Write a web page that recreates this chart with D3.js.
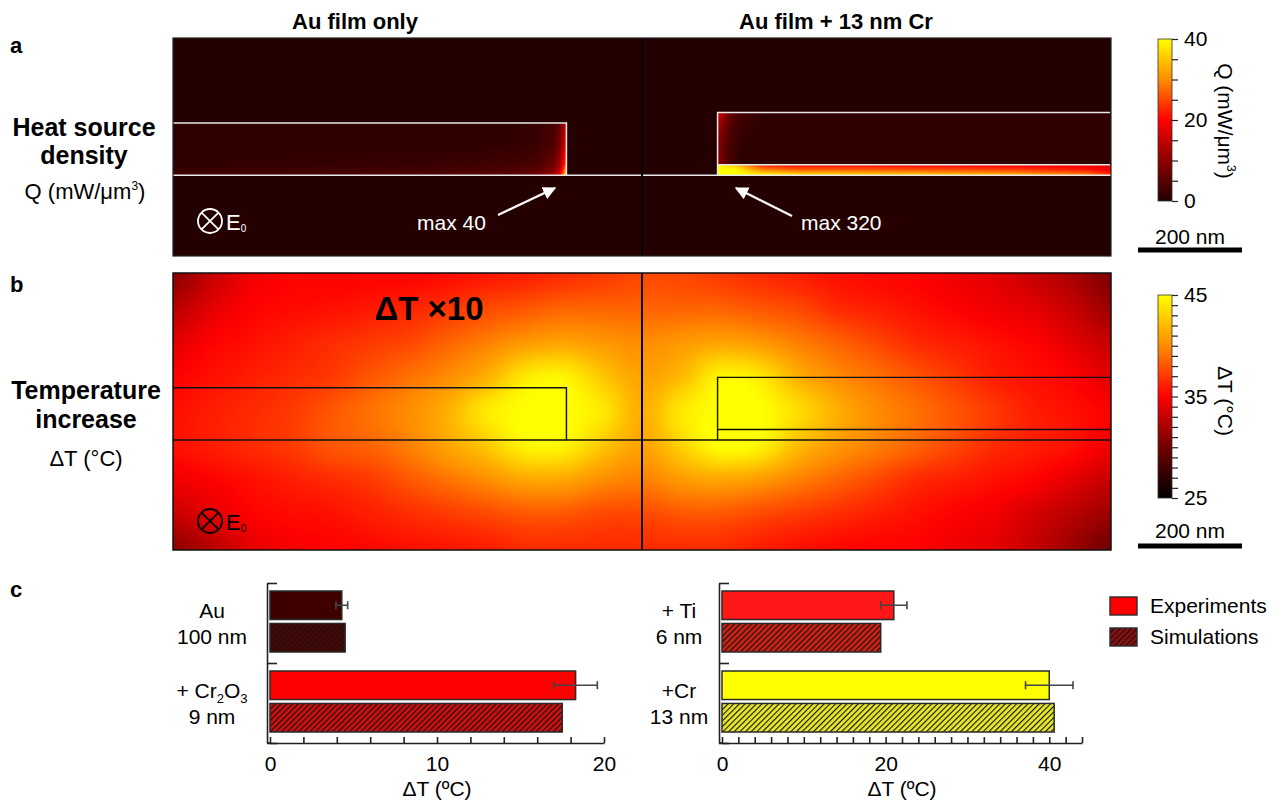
<!DOCTYPE html>
<html>
<head>
<meta charset="utf-8">
<script src="https://cdn.jsdelivr.net/npm/d3@7"></script>
<style>
  body { margin: 0; background: #fff; }
  svg { font-family: "Liberation Sans", Arial, sans-serif; }
</style>
</head>
<body>
<div id="chart"></div>
<script>
// ---------- data ----------
// panel c
const groupLabels = [["Au", "100 nm"], ["+ Cr_2O_3", "9 nm"], ["+ Ti", "6 nm"], ["+Cr", "13 nm"]];
const experiments = [4.3, 18.3, 21.0, 40.0];
const expError = [0.35, 1.3, 1.6, 2.9];
const simulations = [4.5, 17.5, 19.4, 40.6];
const xTicksLeft = [0, 10, 20];
const xTicksRight = [0, 20, 40];

// colour bar ticks
const qTicks = [0, 20, 40];
const dtTicks = [25, 35, 45];

// temperature map (deg C, colour-bar units), rows top->bottom, depth in nm (0 = substrate surface)
const dtDepth = [320, 254, 187, 121, 55, -12, -78, -145, -211];
const dtX = d3.range(-900, 901, 75);
const dtGrid = [
  [31, 33, 34.5, 35, 35, 35, 35, 35.3, 35.7, 36, 36.5, 37, 37.5, 37.5, 37, 36.5, 36, 35.5, 35.2, 35, 34.5, 34, 33, 32, 30.5],
  [32.5, 34, 35, 35.3, 35.5, 35.8, 36.2, 36.8, 37.5, 38, 38.5, 38.5, 38.5, 38.5, 38.5, 38, 37.5, 36.5, 36, 35.5, 35, 34.5, 34, 33, 31.5],
  [34, 35, 35.5, 36, 36.5, 37, 37.5, 38.5, 39.5, 40.5, 41, 40.5, 40, 40.5, 41, 40.5, 39.5, 38.5, 37.5, 36.5, 36, 35.5, 35, 34, 33],
  [35, 35.5, 36, 36.5, 37, 38, 39, 40, 41.5, 44, 44.5, 42.5, 41, 42, 44.5, 44, 41.5, 40, 39, 38, 37, 36, 35.5, 35, 34],
  [35.5, 36, 36.5, 37, 38, 39, 40, 41.5, 44, 45, 45, 44, 41.5, 44, 45, 45, 43.5, 41.5, 40, 39, 38, 37, 36, 35.5, 35],
  [35.5, 36, 36.5, 37, 38, 38.5, 39.5, 41, 42.5, 44.5, 44.5, 42.5, 41, 43, 45, 44.5, 42, 40.5, 39.5, 38.5, 37.5, 36.5, 36, 35.5, 34.5],
  [34.5, 35, 35.5, 36, 36.5, 37, 38, 39, 40, 41, 41, 40, 39.5, 40.5, 41, 40.5, 39.5, 38.5, 37.5, 36.5, 36, 35.5, 35, 34, 33],
  [33, 34, 35, 35.3, 35.5, 36, 36.5, 37, 37.5, 38, 38, 37.5, 37.5, 38, 38, 37.5, 37, 36.5, 36, 35.5, 35, 34.5, 33.5, 32.5, 31.5],
  [31, 32.5, 34, 34.8, 35, 35.2, 35.5, 35.7, 36, 36.5, 36.5, 36.5, 36.5, 36.5, 36.5, 36, 35.5, 35.2, 35, 35, 34.5, 34, 33, 31.5, 30]
];

// heat source density (mW/um^3) inside the films
const qLeftX = [-900, -400, -250, -200, -170, -158, -150, -145];
const qLeftDepth = [100, 60, 20, 0];
const qLeft = [
  [1, 1, 1, 2, 3, 6, 11, 16],
  [1, 1, 1, 2, 4, 8, 14, 20],
  [1, 2, 3, 4, 7, 12, 20, 28],
  [3, 4, 5, 7, 11, 18, 30, 40]
];
const qAuRightX = [145, 155, 170, 190, 230, 900];
const qAuRightDepth = [120, 90, 50, 20];
const qAuRight = [
  [18, 12, 6, 3, 1, 1],
  [12, 8, 4, 2, 1, 1],
  [10, 6, 3, 1, 1, 1],
  [12, 7, 3, 1, 1, 1]
];
const qCrX = [145, 180, 230, 300, 400, 550, 700, 850, 900];
const qCrDepth = [20, 10, 0];
const qCr = [
  [40, 34, 22, 20, 20, 20, 19, 18, 16],
  [40, 40, 30, 27, 27, 26, 25, 22, 19],
  [40, 40, 40, 38, 37, 36, 34, 30, 24]
];

// film geometry (nm)
const FILM_END = 145, AU = 100, CR = 20;

// ---------- setup ----------
const W = 1277, H = 801;
const svg = d3.select("#chart").append("svg").attr("width", W).attr("height", H);
const defs = svg.append("defs");

const qColor = d3.scaleLinear().domain([0, 10, 20, 30, 40])
  .range(["#240000", "#8c0000", "#ff0000", "#ff8c00", "#ffff00"]).clamp(true);
const dtColor = d3.scaleLinear().domain([25, 30, 35, 40, 45])
  .range(["#000000", "#700000", "#ff0000", "#ff8c00", "#ffff00"]).clamp(true);

const PX0 = 173, PX1 = 1111;
const xNm = d3.scaleLinear().domain([-900, 900]).range([PX0, PX1]);
const yA = d3.scaleLinear().domain([263, -155]).range([38, 256]);
const yB = d3.scaleLinear().domain([320, -211]).range([273, 550]);

function lut(scale, lo, hi) {
  return d3.range(512).map(i => {
    const c = d3.rgb(scale(lo + (hi - lo) * i / 511));
    return [c.r, c.g, c.b];
  });
}
const qLut = lut(qColor, 0, 40), dtLut = lut(dtColor, 25, 45);

function fracIndex(arr, v, desc) {
  const n = arr.length;
  let i = 0;
  if (desc) { while (i < n - 2 && v < arr[i + 1]) i++; }
  else { while (i < n - 2 && v > arr[i + 1]) i++; }
  let t = (v - arr[i]) / (arr[i + 1] - arr[i]);
  return i + Math.max(0, Math.min(1, t));
}

function bilinear(xs, ds, grid, x, d) {
  const fx = fracIndex(xs, x, false), fy = fracIndex(ds, d, true);
  const i = Math.min(Math.floor(fx), xs.length - 2), j = Math.min(Math.floor(fy), ds.length - 2);
  const tx = fx - i, ty = fy - j;
  const a = grid[j][i] * (1 - tx) + grid[j][i + 1] * tx;
  const b = grid[j + 1][i] * (1 - tx) + grid[j + 1][i + 1] * tx;
  return a * (1 - ty) + b * ty;
}

function cub(p0, p1, p2, p3, t) {
  return p1 + 0.5 * t * (p2 - p0 + t * (2 * p0 - 5 * p1 + 4 * p2 - p3 + t * (3 * (p1 - p2) + p3 - p0)));
}
function bicubic(xs, ds, grid, x, d) {
  const fx = fracIndex(xs, x, false), fy = fracIndex(ds, d, true);
  const i = Math.min(Math.floor(fx), xs.length - 2), j = Math.min(Math.floor(fy), ds.length - 2);
  const tx = fx - i, ty = fy - j;
  const ci = k => Math.max(0, Math.min(xs.length - 1, k));
  const cj = k => Math.max(0, Math.min(ds.length - 1, k));
  const r = [-1, 0, 1, 2].map(o => {
    const row = grid[cj(j + o)];
    return cub(row[ci(i - 1)], row[ci(i)], row[ci(i + 1)], row[ci(i + 2)], tx);
  });
  return cub(r[0], r[1], r[2], r[3], ty);
}

function fieldImage(g, yScale, valueAt, table, lo, hi) {
  const y0 = yScale.range()[0], y1 = yScale.range()[1];
  const w = PX1 - PX0, h = y1 - y0;
  const cv = document.createElement("canvas");
  cv.width = w; cv.height = h;
  const ctx = cv.getContext("2d");
  const img = ctx.createImageData(w, h);
  for (let py = 0; py < h; py++) {
    const d = yScale.invert(y0 + py + 0.5);
    for (let px = 0; px < w; px++) {
      const x = xNm.invert(PX0 + px + 0.5);
      const v = valueAt(x, d);
      const k = Math.max(0, Math.min(511, Math.round((v - lo) / (hi - lo) * 511)));
      const c = table[k], o = (py * w + px) * 4;
      img.data[o] = c[0]; img.data[o + 1] = c[1]; img.data[o + 2] = c[2]; img.data[o + 3] = 255;
    }
  }
  ctx.putImageData(img, 0, 0);
  g.append("image").attr("x", PX0).attr("y", y0).attr("width", w).attr("height", h)
    .attr("href", cv.toDataURL());
}

// ---------- titles / labels ----------
function textLines(x, lines) {
  lines.forEach(l => {
    svg.append("text").attr("x", x).attr("y", l.y).attr("text-anchor", "middle")
      .attr("font-size", l.size).attr("font-weight", l.bold ? "bold" : null).text(l.t);
  });
}
svg.append("text").attr("x", 355).attr("y", 29).attr("text-anchor", "middle")
  .attr("font-size", 22).attr("font-weight", "bold").text("Au film only");
svg.append("text").attr("x", 836).attr("y", 29).attr("text-anchor", "middle")
  .attr("font-size", 22).attr("font-weight", "bold").text("Au film + 13 nm Cr");

[["a", 53], ["b", 292], ["c", 597]].forEach(([t, y]) =>
  svg.append("text").attr("x", 10).attr("y", y).attr("font-size", 22).attr("font-weight", "bold").text(t));

textLines(84, [{ t: "Heat source", y: 136, size: 25, bold: true }, { t: "density", y: 164, size: 25, bold: true }]);
const qLab = svg.append("text").attr("x", 85).attr("y", 199).attr("text-anchor", "middle").attr("font-size", 22);
qLab.append("tspan").text("Q (mW/μm");
qLab.append("tspan").attr("font-size", 12).attr("dy", -9).text("3");
qLab.append("tspan").attr("dy", 9).text(")");
textLines(86, [{ t: "Temperature", y: 399, size: 25, bold: true }, { t: "increase", y: 428, size: 25, bold: true },
  { t: "ΔT (°C)", y: 466, size: 22 }]);

// ---------- panel a: heat source density ----------
const gA = svg.append("g");
fieldImage(gA, yA, (x, d) => {
  if (x < -FILM_END && d >= 0 && d <= AU) return bilinear(qLeftX, qLeftDepth, qLeft, x, d);
  if (x > FILM_END && d >= 0 && d <= CR) return bilinear(qCrX, qCrDepth, qCr, x, d);
  if (x > FILM_END && d > CR && d <= CR + AU) return bilinear(qAuRightX, qAuRightDepth, qAuRight, x, d);
  return 0;
}, qLut, 0, 40);

const lineW = "#e8e8e8";
gA.append("line").attr("x1", xNm(-900)).attr("x2", xNm(900)).attr("y1", yA(0)).attr("y2", yA(0))
  .attr("stroke", lineW).attr("stroke-width", 1.5);
gA.append("path").attr("d", `M${xNm(-900)},${yA(AU)}H${xNm(-FILM_END)}V${yA(0)}`)
  .attr("fill", "none").attr("stroke", lineW).attr("stroke-width", 1.5);
gA.append("path").attr("d", `M${xNm(900) - 1},${yA(AU + CR)}H${xNm(FILM_END)}V${yA(0)}M${xNm(FILM_END)},${yA(CR)}H${xNm(900) - 1}`)
  .attr("fill", "none").attr("stroke", lineW).attr("stroke-width", 1.5);
gA.append("line").attr("x1", xNm(0)).attr("x2", xNm(0)).attr("y1", 38).attr("y2", 256)
  .attr("stroke", "#000").attr("stroke-width", 2);
gA.append("rect").attr("x", PX0).attr("y", 38).attr("width", PX1 - PX0).attr("height", 218)
  .attr("fill", "none").attr("stroke", "#222").attr("stroke-width", 1.2);

// arrows + annotations
defs.append("marker").attr("id", "headW").attr("viewBox", "0 0 10 10").attr("refX", 9).attr("refY", 5)
  .attr("markerWidth", 6).attr("markerHeight", 6).attr("orient", "auto").attr("markerUnits", "strokeWidth")
  .append("path").attr("d", "M0,0L10,5L0,10z").attr("fill", "#fff");
gA.append("line").attr("x1", 498).attr("y1", 215).attr("x2", 555).attr("y2", 188)
  .attr("stroke", "#fff").attr("stroke-width", 2.2).attr("marker-end", "url(#headW)");
gA.append("line").attr("x1", 792).attr("y1", 216).attr("x2", 736).attr("y2", 188)
  .attr("stroke", "#fff").attr("stroke-width", 2.2).attr("marker-end", "url(#headW)");
gA.append("text").attr("x", 417).attr("y", 230).attr("fill", "#fff").attr("font-size", 21).text("max 40");
gA.append("text").attr("x", 801).attr("y", 230).attr("fill", "#fff").attr("font-size", 21).text("max 320");

function eField(g, cx, cy, col) {
  g.append("circle").attr("cx", cx).attr("cy", cy).attr("r", 12).attr("fill", "none")
    .attr("stroke", col).attr("stroke-width", 1.8);
  const k = 12 * Math.SQRT1_2;
  g.append("path").attr("d", `M${cx - k},${cy - k}L${cx + k},${cy + k}M${cx + k},${cy - k}L${cx - k},${cy + k}`)
    .attr("stroke", col).attr("stroke-width", 1.8);
  const t = g.append("text").attr("x", cx + 16).attr("y", cy + 9).attr("fill", col).attr("font-size", 22);
  t.append("tspan").text("E");
  t.append("tspan").attr("font-size", 10).attr("dy", 2).text("0");
}
eField(gA, 210, 221, "#fff");

// ---------- panel b: temperature ----------
const gB = svg.append("g");
fieldImage(gB, yB, (x, d) => bicubic(dtX, dtDepth, dtGrid, x, d), dtLut, 25, 45);
gB.append("line").attr("x1", xNm(-900)).attr("x2", xNm(900)).attr("y1", yB(0)).attr("y2", yB(0))
  .attr("stroke", "#111").attr("stroke-width", 1.4);
gB.append("path").attr("d", `M${xNm(-900)},${yB(AU)}H${xNm(-FILM_END)}V${yB(0)}`)
  .attr("fill", "none").attr("stroke", "#111").attr("stroke-width", 1.4);
gB.append("path").attr("d", `M${xNm(900) - 1},${yB(AU + CR)}H${xNm(FILM_END)}V${yB(0)}M${xNm(FILM_END)},${yB(CR)}H${xNm(900) - 1}`)
  .attr("fill", "none").attr("stroke", "#111").attr("stroke-width", 1.4);
gB.append("line").attr("x1", xNm(0)).attr("x2", xNm(0)).attr("y1", 273).attr("y2", 550)
  .attr("stroke", "#000").attr("stroke-width", 2);
gB.append("rect").attr("x", PX0).attr("y", 273).attr("width", PX1 - PX0).attr("height", 277)
  .attr("fill", "none").attr("stroke", "#111").attr("stroke-width", 1.5);
gB.append("text").attr("x", 429).attr("y", 320).attr("text-anchor", "middle").attr("font-size", 33)
  .attr("font-weight", "bold").text("ΔT ×10");
eField(gB, 210, 521, "#000");

// ---------- colour bars ----------
function colorBar(id, scale, lo, hi, y0, y1, step, labels) {
  const grad = defs.append("linearGradient").attr("id", id).attr("x1", 0).attr("y1", 1).attr("x2", 0).attr("y2", 0);
  d3.range(lo, hi + 0.001, (hi - lo) / 20).forEach(v =>
    grad.append("stop").attr("offset", (v - lo) / (hi - lo)).attr("stop-color", scale(v)));
  svg.append("rect").attr("x", 1158).attr("y", y0).attr("width", 14).attr("height", y1 - y0)
    .attr("fill", `url(#${id})`).attr("stroke", "#333").attr("stroke-width", 0.8);
  const ys = d3.scaleLinear().domain([lo, hi]).range([y1, y0]);
  const ax = svg.append("g").attr("transform", "translate(1172,0)")
    .call(d3.axisRight(ys).tickValues(d3.range(lo, hi + 0.001, step)).tickSizeInner(6).tickSizeOuter(0)
      .tickPadding(6).tickFormat(d => labels.includes(d) ? d : ""));
  ax.select(".domain").remove();
  ax.attr("font-size", 21).attr("font-family", null);
  ax.selectAll("line").attr("stroke", "#222").attr("stroke-width", 1.2);
}
colorBar("gq", qColor, 0, 40, 39, 201, 5, qTicks);
colorBar("gdt", dtColor, 25, 45, 295, 498, 1, dtTicks);

const qt = svg.append("text").attr("transform", "translate(1218,121) rotate(90)").attr("text-anchor", "middle").attr("font-size", 21);
qt.append("tspan").text("Q (mW/μm");
qt.append("tspan").attr("font-size", 12).attr("dy", -9).text("3");
qt.append("tspan").attr("dy", 9).text(")");
svg.append("text").attr("transform", "translate(1218,401) rotate(90)").attr("text-anchor", "middle")
  .attr("font-size", 21).text("ΔT (°C)");

[[244, 250], [538, 546]].forEach(([ty, ly]) => {
  svg.append("text").attr("x", 1190).attr("y", ty).attr("text-anchor", "middle").attr("font-size", 21).text("200 nm");
  svg.append("line").attr("x1", 1138).attr("x2", 1242).attr("y1", ly).attr("y2", ly)
    .attr("stroke", "#000").attr("stroke-width", 5);
});

// ---------- panel c: bar charts ----------
const expColors = ["#3f0000", "#ff0000", "#ff1616", "#ffff00"];
const simColors = ["#4a0606", "#cc1010", "#cc2214", "#e8e82a"];

function hatch(id, fill) {
  const p = defs.append("pattern").attr("id", id).attr("patternUnits", "userSpaceOnUse")
    .attr("width", 4).attr("height", 4).attr("patternTransform", "rotate(45)");
  p.append("rect").attr("width", 4).attr("height", 4).attr("fill", fill);
  p.append("line").attr("x1", 0).attr("y1", 0).attr("x2", 0).attr("y2", 4).attr("stroke", "#111").attr("stroke-width", 2.2);
}
simColors.forEach((c, i) => hatch("h" + i, c));
hatch("hLeg", "#8c1010");

function labelText(g, x, y, s) {
  const t = g.append("text").attr("x", x).attr("y", y).attr("text-anchor", "middle").attr("font-size", 21);
  let sub = false;
  s.split(/(_\d)/).filter(p => p).forEach(p => {
    if (p[0] === "_") { t.append("tspan").attr("font-size", 13).attr("dy", sub ? 0 : 5).text(p[1]); sub = true; }
    else { t.append("tspan").attr("dy", sub ? -5 : 0).text(p); sub = false; }
  });
}

function barChart(idx, xScale, axisMax, ticks, labelX) {
  const g = svg.append("g");
  const y0 = 583, y1 = 743;
  const band = d3.scaleBand().domain(idx).range([y0, y1]);
  const inner = d3.scaleBand().domain(["exp", "sim"]).range([8, 69]).paddingInner(0.12);
  const axisX = xScale(0) - 3;

  idx.forEach(i => {
    const by = band(i);
    g.append("rect").attr("x", xScale(0)).attr("y", by + inner("exp"))
      .attr("width", xScale(experiments[i]) - xScale(0)).attr("height", inner.bandwidth())
      .attr("fill", expColors[i]).attr("stroke", "#2a2a2a").attr("stroke-width", 1.5);
    g.append("rect").attr("x", xScale(0)).attr("y", by + inner("sim"))
      .attr("width", xScale(simulations[i]) - xScale(0)).attr("height", inner.bandwidth())
      .attr("fill", `url(#h${i})`).attr("stroke", "#2a2a2a").attr("stroke-width", 1.5);
    const cy = by + inner("exp") + inner.bandwidth() / 2;
    const e0 = xScale(experiments[i] - expError[i]), e1 = xScale(experiments[i] + expError[i]);
    g.append("path").attr("d", `M${e0},${cy}H${e1}M${e0},${cy - 4}V${cy + 4}M${e1},${cy - 4}V${cy + 4}`)
      .attr("stroke", "#444").attr("stroke-width", 1.6).attr("fill", "none");
    const cmid = by + band.bandwidth() / 2;
    labelText(g, labelX, cmid - 5, groupLabels[i][0]);
    labelText(g, labelX, cmid + 21, groupLabels[i][1]);
  });

  const yl = d3.scaleLinear().domain([0, idx.length]).range([y0, y1]);
  g.append("g").attr("transform", `translate(${axisX},0)`)
    .call(d3.axisRight(yl).tickValues(d3.range(0, idx.length + 1)).tickSizeInner(10).tickSizeOuter(0).tickFormat(""))
    .call(a => a.selectAll("line,path").attr("stroke", "#222").attr("stroke-width", 1.6));

  const ax = g.append("g").attr("transform", `translate(0,${y1})`)
    .call(d3.axisBottom(xScale).tickValues(d3.range(0, axisMax + 0.1, 2)).tickSizeInner(-6).tickSizeOuter(0)
      .tickPadding(13).tickFormat(d => ticks.includes(d) ? d : ""));
  ax.attr("font-size", 21).attr("font-family", null);
  ax.selectAll("line,path").attr("stroke", "#222").attr("stroke-width", 1.6);
  g.append("line").attr("x1", axisX).attr("x2", xScale(0)).attr("y1", y1).attr("y2", y1)
    .attr("stroke", "#222").attr("stroke-width", 1.6);
  const r = xScale.range();
  g.append("text").attr("x", (r[0] + r[1]) / 2).attr("y", 796).attr("text-anchor", "middle")
    .attr("font-size", 21).text("ΔT (ºC)");
}

barChart([0, 1], d3.scaleLinear().domain([0, 20]).range([270, 604]), 20, xTicksLeft, 212);
barChart([2, 3], d3.scaleLinear().domain([0, 44]).range([722, 1082]), 44, xTicksRight, 679);

// legend
const leg = svg.append("g");
[["Experiments", "#ff0000", 597], ["Simulations", "url(#hLeg)", 628]].forEach(([t, f, y]) => {
  leg.append("rect").attr("x", 1110).attr("y", y).attr("width", 27).attr("height", 18)
    .attr("fill", f).attr("stroke", "#2a2a2a").attr("stroke-width", 1.4);
  leg.append("text").attr("x", 1150).attr("y", y + 16).attr("font-size", 21).text(t);
});
</script>
</body>
</html>
